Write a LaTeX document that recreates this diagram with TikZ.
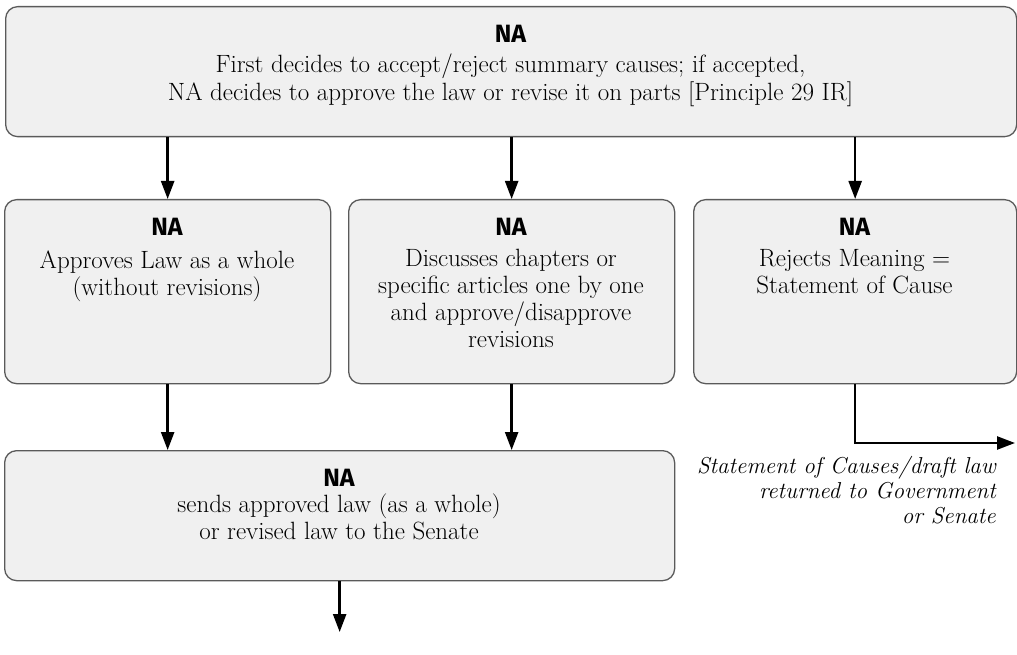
\documentclass[tikz,border=0pt]{standalone}
\usepackage{fontspec}
\newfontfamily\headfont{Fira Sans}
\usetikzlibrary{arrows.meta}
\definecolor{boxfill}{HTML}{F0F0F0}
\definecolor{boxline}{HTML}{5A5A5A}

\begin{document}
\begin{tikzpicture}[x=1pt,y=-1pt,
  box/.style={draw=boxline, fill=boxfill, line width=1.3pt, rounded corners=12pt,
              inner sep=0pt, anchor=north west},
  head/.style={font=\headfont\bfseries\fontsize{25}{30}\selectfont, inner sep=0pt, anchor=base},
  % multi-line texts are placed by the baseline of their last line
  body/.style={font=\fontsize{25}{27}\selectfont, align=center, inner sep=0pt, anchor=base},
  note/.style={font=\itshape\fontsize{23}{25}\selectfont, align=right, inner sep=0pt, anchor=base east},
  flow/.style={-{Triangle[length=18pt,width=13pt]}, line width=2.4pt}]

\useasboundingbox (0,0) rectangle (1017,655);

% boxes
\node[box, minimum width=1011pt, minimum height=130pt] (top) at (5,6) {};
\node[box, minimum width=326pt, minimum height=184pt] (a) at (4,199) {};
\node[box, minimum width=326pt, minimum height=184pt] (b) at (348,199) {};
\node[box, minimum width=323pt, minimum height=184pt] (c) at (693,199) {};
\node[box, minimum width=670pt, minimum height=130pt] (bot) at (4,450) {};

% texts
\node[head] (tophead) at (510.5,43) {NA};
\node[body, font=\fontsize{25}{28}\selectfont] (toptext) at (510.5,101)
  {First decides to accept/reject summary causes; if accepted,\\
   NA decides to approve the law or revise it on parts [Principle 29 IR]};

\node[head] (ahead) at (167,235) {NA};
\node[body] (atext) at (167,295) {Approves Law as a whole\\(without revisions)};

\node[head] (bhead) at (511,235) {NA};
\node[body] (btext) at (511,347)
  {Discusses chapters or\\specific articles one by one\\and approve/disapprove\\revisions};

\node[head] (chead) at (854.5,235) {NA};
\node[body] (ctext) at (854.5,293) {Rejects Meaning =\\Statement of Cause};

\node[head] (bothead) at (339,486) {NA};
\node[body] (bottext) at (339,539)
  {sends approved law (as a whole)\\or revised law to the Senate};

\node[note] (ret) at (996,523)
  {Statement of Causes/draft law\\returned to Government\\or Senate};

% connectors
\coordinate (retend) at (1015,443);
\coordinate (out) at (339,632);
\draw[flow] (top.south -| a.north) -- (a.north);
\draw[flow] (top.south -| b.north) -- (b.north);
\draw[flow] (top.south -| c.north) -- (c.north);
\draw[flow] (a.south) -- (a.south |- bot.north);
\draw[flow] (b.south) -- (b.south |- bot.north);
\draw[flow] (c.south) |- (retend);
\draw[flow] (bot.south) -- (bot.south |- out);
\end{tikzpicture}
\end{document}
